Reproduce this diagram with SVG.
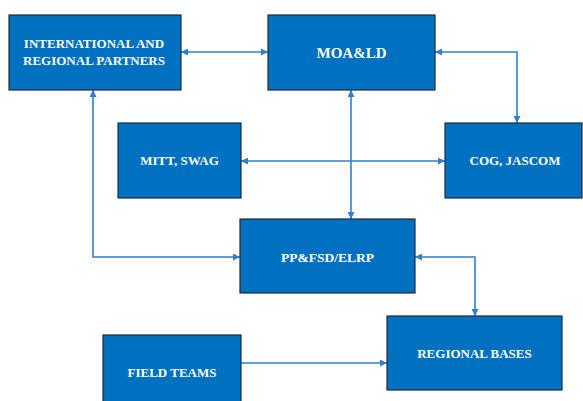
<svg xmlns="http://www.w3.org/2000/svg" width="583" height="401" viewBox="0 0 583 401">
<defs>
<marker id="ah" viewBox="0 0 10 10" refX="10" refY="5" markerWidth="7" markerHeight="7" markerUnits="userSpaceOnUse" orient="auto-start-reverse">
<path d="M0,0 L10,5 L0,10 z" fill="#2E7FCF"/>
</marker>
<style>
.box{fill:#0070C0;stroke:#1E2B3C;stroke-width:1.2}
.t{fill:#FFFFFF;font-family:"Liberation Serif","Times New Roman",serif;font-weight:bold;font-size:13px;text-anchor:middle}
.c{fill:none;stroke:#2E7FCF;stroke-width:1.6}
</style>
</defs>
<rect width="583" height="401" fill="#FFFFFF"/>
<g id="connectors">
<path class="c" d="M181,52 H268" marker-start="url(#ah)" marker-end="url(#ah)"/>
<path class="c" d="M435,52 H517 V123" marker-start="url(#ah)" marker-end="url(#ah)"/>
<path class="c" d="M351,90 V219" marker-start="url(#ah)" marker-end="url(#ah)"/>
<path class="c" d="M241,161 H445" marker-start="url(#ah)" marker-end="url(#ah)"/>
<path class="c" d="M93,90 V257 H240" marker-start="url(#ah)" marker-end="url(#ah)"/>
<path class="c" d="M415,257 H475 V316" marker-start="url(#ah)" marker-end="url(#ah)"/>
<path class="c" d="M241,363 H387" marker-end="url(#ah)"/>
</g>
<g id="intl">
<rect class="box" x="9" y="15" width="172" height="75"/>
<text class="t" x="94" y="48">INTERNATIONAL AND</text>
<text class="t" x="94" y="65">REGIONAL PARTNERS</text>
</g>
<g id="moald">
<rect class="box" x="268" y="15" width="167" height="75"/>
<text class="t" x="351.5" y="58" style="font-size:15px">MOA&amp;LD</text>
</g>
<g id="mitt">
<rect class="box" x="118" y="123" width="123" height="75"/>
<text class="t" x="179.5" y="165">MITT, SWAG</text>
</g>
<g id="cog">
<rect class="box" x="445" y="123" width="137" height="75"/>
<text class="t" x="515" y="165">COG, JASCOM</text>
</g>
<g id="ppfsd">
<rect class="box" x="240" y="219" width="175" height="74"/>
<text class="t" x="327.5" y="262" style="font-size:13.5px">PP&amp;FSD/ELRP</text>
</g>
<g id="regional">
<rect class="box" x="387" y="316" width="175" height="74"/>
<text class="t" x="474.5" y="358">REGIONAL BASES</text>
</g>
<g id="field">
<rect class="box" x="103" y="335" width="138" height="80"/>
<text class="t" x="172" y="377">FIELD TEAMS</text>
</g>
</svg>
